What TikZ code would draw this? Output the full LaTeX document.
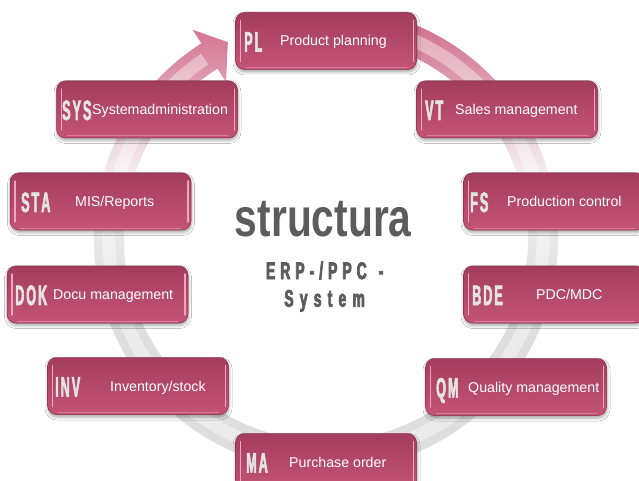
\documentclass[tikz,border=0pt]{standalone}
\usepackage{fontspec}
\setmainfont{Liberation Sans}
\newfontfamily\abbrfont{Liberation Sans}[FakeStretch=0.45, FakeBold=2]
\newfontfamily\titlefont{Liberation Sans}[FakeStretch=0.755]
\newfontfamily\subfont{Liberation Sans}[FakeStretch=0.58, FakeBold=3]
\usetikzlibrary{calc,shadows.blur}
\definecolor{ringpink}{RGB}{210,110,142}
\definecolor{ringgrey}{RGB}{222,222,222}
\definecolor{ringwhite}{RGB}{244,244,244}
\colorlet{ringpinkA}{ringpink!30!ringwhite}
\colorlet{ringpinkB}{ringpink!75!ringwhite}
\definecolor{boxtop}{RGB}{163,60,94}
\definecolor{boxbot}{RGB}{196,84,120}
\definecolor{boxedge}{RGB}{140,45,78}
\definecolor{hlpink}{RGB}{238,165,190}
\definecolor{abbrgrey}{RGB}{228,228,228}
\definecolor{titlegrey}{RGB}{92,92,92}
\pgfdeclareverticalshading{ringshade}{100bp}{color(0bp)=(ringgrey); color(25bp)=(ringgrey); color(47bp)=(ringgrey); color(58bp)=(ringwhite); color(64bp)=(ringpinkA); color(70bp)=(ringpinkB); color(75bp)=(ringpink); color(100bp)=(ringpink)}
\newcommand\ak{\kern2pt}
\newcommand\sk{\kern5pt}
\newcommand\tk{\kern6.2pt}
\newcommand\modbox[7]{%
  \node[modul] (#1) at (#2,#3) {};
  \node[abbrtxt, anchor=base west] (#1-a) at (#5,#3+10.5) {#4};
  \node[lbltxt, anchor=base west] (#1-l) at (#7,#3+5) {#6};
}
\begin{document}
\begin{tikzpicture}[x=1pt,y=-1pt,
  modul/.style={rectangle, rounded corners=9pt, minimum width=181pt, minimum height=57pt,
    inner sep=0pt, top color=boxtop, bottom color=boxbot, draw=boxedge, line width=0.5pt,
    blur shadow={shadow xshift=0.5pt, shadow yshift=-2.5pt, shadow blur radius=3pt, shadow opacity=35},
    path picture={
      \draw[hlpink, line width=1.4pt, line cap=round]
        ([xshift=5pt,yshift=-8pt]path picture bounding box.north west) --
        ([xshift=5pt,yshift=8pt]path picture bounding box.south west);
      \draw[hlpink, line width=1.4pt, line cap=round]
        ([xshift=-3pt,yshift=-8pt]path picture bounding box.north east) --
        ([xshift=-3pt,yshift=8pt]path picture bounding box.south east);
      \draw[hlpink, opacity=0.5, line width=1pt]
        ([xshift=10pt,yshift=2pt]path picture bounding box.south west) --
        ([xshift=-10pt,yshift=2pt]path picture bounding box.south east);
    }},
  abbrtxt/.style={inner sep=0pt, text=abbrgrey, font=\abbrfont\bfseries\fontsize{28}{28}\selectfont},
  lbltxt/.style={inner sep=0pt, text=white, font=\fontsize{14.2}{16}\selectfont},
  subtxt/.style={anchor=base, inner sep=0pt, text=titlegrey, font=\subfont\bfseries\fontsize{24}{24}\selectfont}]
\useasboundingbox (0,0) rectangle (639,481);
\clip (0,0) rectangle (639,481);
\fill[white] (0,0) rectangle (639,481);
% ring arrow
\coordinate (c) at (326,239);
\path[shading=ringshade]
  ($(c)+(-72:232)$) arc[start angle=-72, end angle=237.5, radius=232]
  -- ($(c)+(237.5:248)$) -- ($(c)+(243.5:220)$) -- ($(c)+(237.5:186)$)
  -- ($(c)+(237.5:202)$) arc[start angle=237.5, end angle=-72, radius=202] -- cycle;
\draw[white, opacity=0.4, line width=13pt]
  ($(c)+(-72:217)$) arc[start angle=-72, end angle=236, radius=217];
% modules
\modbox{pl}{326}{41}{P\ak L}{244}{Product planning}{280}
\modbox{vt}{507}{109.5}{V\ak T}{425}{Sales management}{455}
\modbox{fs}{554}{201.5}{F\ak S}{470}{Production control}{507}
\modbox{bde}{554}{294.5}{B\ak D\ak E}{472}{PDC/MDC}{536}
\modbox{qm}{516}{387}{Q\ak M}{436}{Quality management}{468}
\modbox{ma}{326}{462}{M\ak A}{246}{Purchase order}{289}
\modbox{inv}{138}{386}{I\ak N\ak V}{55}{Inventory/stock}{110}
\modbox{dok}{97.5}{294.5}{D\ak O\ak K}{15}{Docu management}{53}
\modbox{sta}{100.5}{201.5}{S\ak T\ak A}{21}{MIS/Reports}{75}
\modbox{sys}{147}{109.5}{S\ak Y\ak S}{62}{Systemadministration}{92}
% centre text
\node[anchor=base, inner sep=0pt, text=titlegrey, font=\titlefont\bfseries\fontsize{54}{54}\selectfont] (title) at (323.3,236.5) {structura};
\node[subtxt] (erp) at (324.7,279) {E\sk R\sk P\sk -\sk /\sk P\sk P\sk C\kern12pt -};
\node[subtxt] (system) at (324.6,306.7) {S\tk y\tk s\tk t\tk e\tk m};
\end{tikzpicture}
\end{document}
